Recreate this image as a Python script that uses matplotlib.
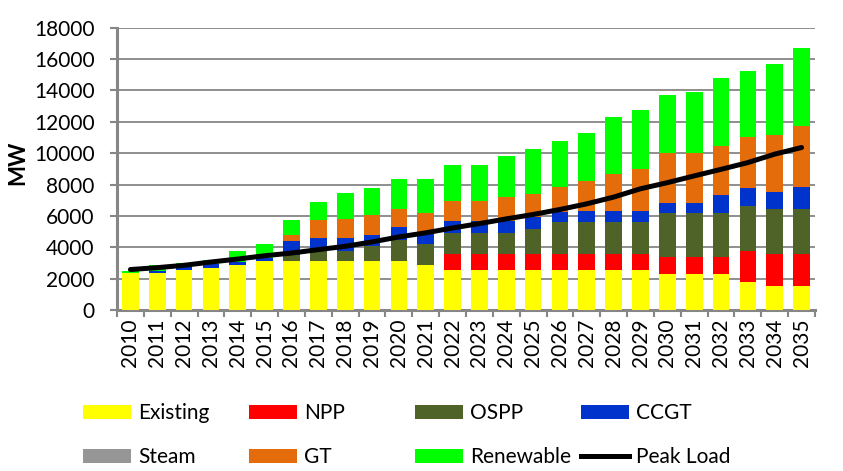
import matplotlib
matplotlib.use("Agg")
import matplotlib.pyplot as plt
from matplotlib.patches import Patch
from matplotlib.lines import Line2D
import numpy as np

years = [str(y) for y in range(2010, 2036)]

existing  = [2350, 2350, 2560, 2670, 2880, 3140, 3100, 3100, 3100, 3100, 3100, 2880, 2520,
             2520, 2520, 2520, 2520, 2520, 2520, 2520, 2310, 2310, 2310, 1770, 1540, 1540]
npp       = [0, 0, 0, 0, 0, 0, 0, 0, 0, 0, 0, 0, 1050,
             1050, 1050, 1050, 1050, 1050, 1050, 1050, 1040, 1040, 1040, 2010, 2030, 2030]
ospp      = [0, 0, 0, 0, 0, 0, 400, 640, 640, 960, 1340, 1350, 1350,
             1350, 1350, 1600, 2050, 2050, 2050, 2050, 2850, 2850, 2850, 2840, 2840, 2840]
ccgt      = [0, 150, 150, 260, 180, 170, 880, 860, 860, 750, 840, 690, 780,
             780, 780, 730, 640, 680, 680, 680, 640, 640, 1110, 1140, 1130, 1450]
steam     = [0] * 26
gt        = [0, 0, 0, 0, 0, 0, 430, 1120, 1230, 1240, 1130, 1280, 1240,
             1240, 1500, 1520, 1610, 1900, 2350, 2720, 3160, 3160, 3160, 3290, 3640, 3850]
renewable = [110, 380, 290, 270, 720, 920, 910, 1160, 1610, 1710, 1920, 2130, 2290,
             2290, 2590, 2840, 2930, 3080, 3640, 3740, 3740, 3890, 4320, 4180, 4520, 5020]
peak_load = [2580, 2700, 2850, 3060, 3250, 3460, 3630, 3850, 4060, 4340, 4660, 4920, 5230,
             5510, 5810, 6090, 6410, 6770, 7200, 7730, 8120, 8550, 8970, 9400, 9940, 10360]

series = [
    ("Existing", existing, "#FFFF00"),
    ("NPP", npp, "#FF0000"),
    ("OSPP", ospp, "#4F6228"),
    ("CCGT", ccgt, "#0033CC"),
    ("Steam", steam, "#969696"),
    ("GT", gt, "#E46C0A"),
    ("Renewable", renewable, "#00FF00"),
]

FONT = "Lato"
FS = 15
plt.rcParams["font.family"] = [FONT, "DejaVu Sans"]

W, H = 843, 471
fig = plt.figure(figsize=(W / 100, H / 100), dpi=100)
left, right, top, bottom = 117, 815, 27.7, 310
ax = fig.add_axes([left / W, 1 - bottom / H, (right - left) / W, (bottom - top) / H])

x = np.arange(len(years))
base = np.zeros(len(years))
for name, vals, col in series:
    v = np.array(vals, dtype=float)
    ax.bar(x, v, 0.62, bottom=base, color=col, zorder=3, linewidth=0)
    base += v

ax.plot(x, peak_load, color="black", lw=3.6, solid_capstyle="round",
        solid_joinstyle="round", zorder=5)

ax.set_xlim(-0.5, len(years) - 0.5)
ax.set_ylim(0, 18000)
ax.set_yticks(np.arange(0, 18001, 2000))
ax.set_yticklabels([str(v) for v in range(0, 18001, 2000)], fontsize=FS)
ax.set_xticks(x)
ax.set_xticklabels(years, rotation=90, fontsize=FS)
ax.set_xticks(np.arange(-0.5, len(years), 1), minor=True)
ax.tick_params(axis="x", which="major", length=0, pad=6)
ax.tick_params(axis="x", which="minor", length=5, width=1.5, color="#868686", direction="out")
ax.tick_params(axis="y", length=5, width=1.5, color="#868686", direction="out", pad=11)

ax.grid(axis="y", color="#868686", lw=1.3, zorder=0)
ax.set_axisbelow(True)
for s in ["top", "right"]:
    ax.spines[s].set_visible(False)
for s in ["left", "bottom"]:
    ax.spines[s].set_color("#868686")
    ax.spines[s].set_linewidth(2.2)

fig.text(18 / W, 1 - 163 / H, "MW", rotation=90, fontsize=FS + 1, fontweight="bold",
         ha="center", va="center")

# legend: 4 columns of 2 entries
handles = {name: Patch(facecolor=col, edgecolor="none") for name, _, col in series}
handles["Peak Load"] = Line2D([0], [0], color="black", lw=3.6)
columns = [["Existing", "Steam"], ["NPP", "GT"], ["OSPP", "Renewable"], ["CCGT", "Peak Load"]]
col_x = [83, 249, 415, 581]
fs_px = FS * 100 / 72
for cx, names in zip(col_x, columns):
    leg = fig.legend([handles[n] for n in names], names, loc="upper left",
                     bbox_to_anchor=(cx / W, 1 - 403 / H), frameon=False,
                     fontsize=FS, handlelength=48 / fs_px, handleheight=13.5 / fs_px,
                     handletextpad=7 / fs_px, labelspacing=1.15, borderpad=0,
                     borderaxespad=0)

fig.savefig("out.png", dpi=100)
